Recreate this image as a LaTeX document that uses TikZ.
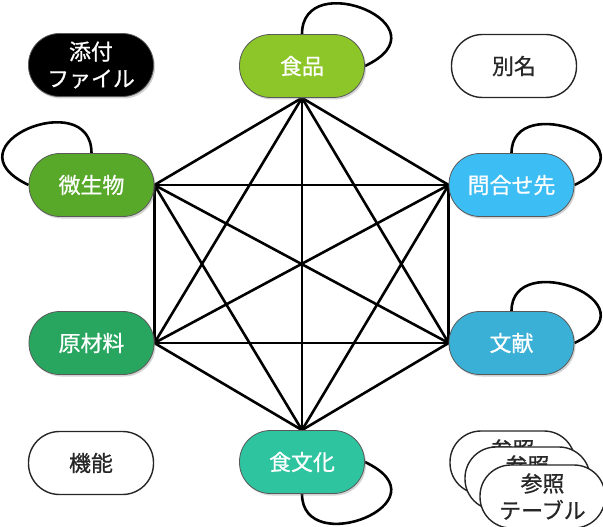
\documentclass[tikz,border=0pt]{standalone}
\usepackage{fontspec}
\newfontfamily\jp[FakeBold=0.8]{Noto Sans CJK JP}
\usetikzlibrary{shadows}
\pgfdeclarelayer{background}
\pgfsetlayers{background,main}
\definecolor{shokuC}{RGB}{140,198,40}
\definecolor{biseiC}{RGB}{88,168,42}
\definecolor{genC}{RGB}{40,166,95}
\definecolor{bunkaC}{RGB}{46,196,160}
\definecolor{bunkenC}{RGB}{58,176,214}
\definecolor{toiC}{RGB}{60,190,245}
\begin{document}
\begin{tikzpicture}[x=1bp,y=-1bp,
  pill/.style={rectangle, rounded corners=31bp, minimum width=125bp, minimum height=63bp,
    align=center, font=\jp\fontsize{22}{27}\selectfont, inner sep=0pt},
  colpill/.style={pill, draw=black!65, line width=0.8bp, text=white, fill=#1,
    drop shadow={opacity=0.35, shadow xshift=1.5bp, shadow yshift=-2bp}},
  wpill/.style={pill, draw=black!85, line width=1.4bp, fill=white, text=black!85},
  link/.style={line width=2.6bp, black},
]
\useasboundingbox (0,0) rectangle (603,527);

\node[colpill=black] (tenpu) at (91,65) {添付\\ファイル};
\node[colpill=shokuC] (shoku) at (302,66) {食品};
\node[wpill] (betsu) at (514,66) {別名};
\node[colpill=biseiC] (bisei) at (91.5,185) {微生物};
\node[colpill=toiC] (toi) at (511.5,185) {問合せ先};
\node[colpill=genC] (gen) at (91.5,343) {原材料};
\node[colpill=bunkenC] (bunken) at (511.5,343) {文献};
\node[wpill] (kino) at (91,463) {機能};
\node[colpill=bunkaC] (bunka) at (302,462) {食文化};

\node[wpill] (ref1) at (512.5,462.5) {参照\\テーブル};
\node[wpill] (ref2) at (527.5,478.5) {参照\\テーブル};
\node[wpill] (ref3) at (542.5,496.5) {参照\\テーブル};

\begin{pgfonlayer}{background}
\foreach \a/\b in {shoku.south/bisei.east, shoku.south/toi.west, shoku.south/gen.east,
  shoku.south/bunken.west, shoku.south/bunka.north,
  bisei.east/toi.west, bisei.east/gen.east, bisei.east/bunken.west, bisei.east/bunka.north,
  toi.west/gen.east, toi.west/bunken.west, toi.west/bunka.north,
  gen.east/bunken.west, gen.east/bunka.north, bunken.west/bunka.north}
  \draw[link] (\a) -- (\b);
\draw[link] (shoku.north) .. controls +(0,-68) and +(85,-40) .. (shoku.east);
\draw[link] (bisei.north) .. controls +(0,-68) and +(-85,-40) .. (bisei.west);
\draw[link] (toi.north) .. controls +(0,-64) and +(85,-40) .. (toi.east);
\draw[link] (bunken.north) .. controls +(0,-64) and +(85,-40) .. (bunken.east);
\draw[link] (bunka.south) .. controls +(0,66) and +(85,40) .. (bunka.east);
\end{pgfonlayer}
\end{tikzpicture}
\end{document}
